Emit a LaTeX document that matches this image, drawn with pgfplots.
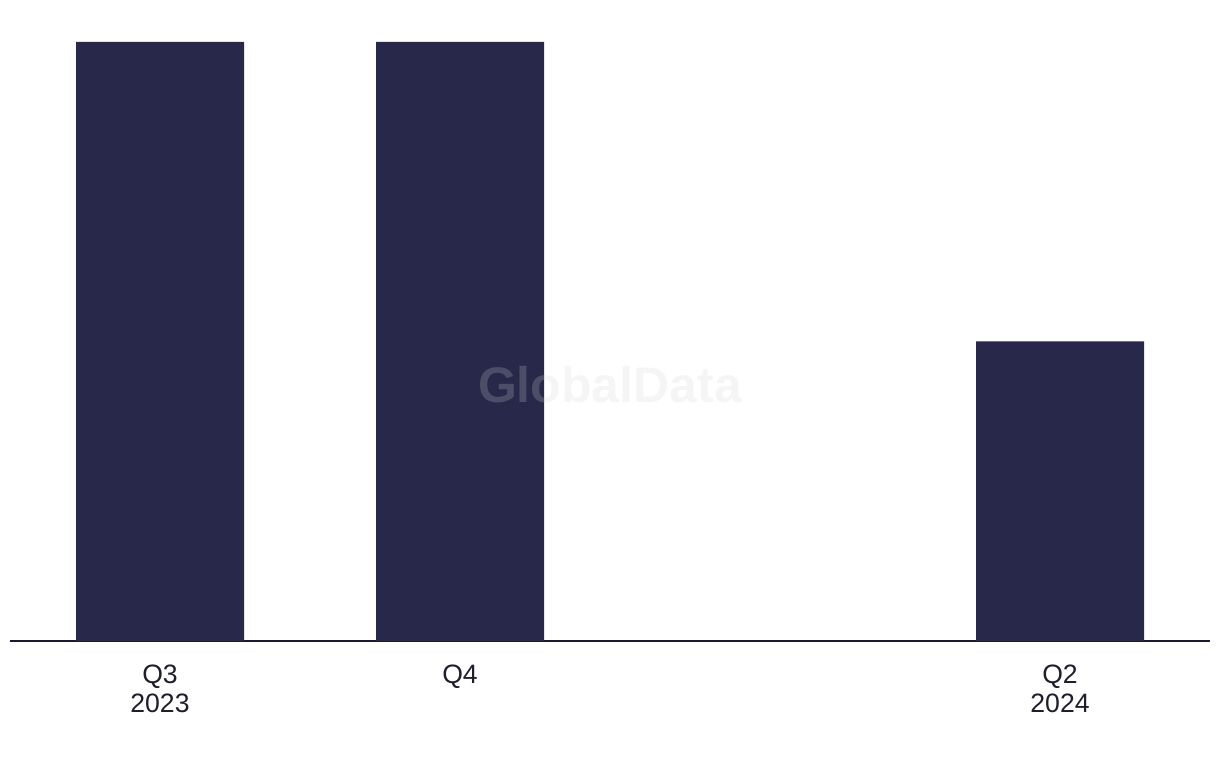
\documentclass[border=0pt]{standalone}
\usepackage{fontspec}
\setmainfont{Liberation Sans}
\usepackage{pgfplots}
\pgfplotsset{compat=1.18}
\definecolor{barnavy}{HTML}{28284A}
\definecolor{axisnavy}{HTML}{1A1A2E}
\definecolor{labelc}{HTML}{1E1E2C}
\definecolor{wmark}{HTML}{D2D2D2}

\begin{document}
\begin{tikzpicture}
\begin{axis}[
    name=ax,
    scale only axis,
    width=600pt, height=320.5pt,
    xmin=-0.5, xmax=3.5,
    ymin=0, ymax=2.1402,
    ybar, bar width=84pt,
    axis x line*=bottom,
    axis y line=none,
    x axis line style={draw=axisnavy, line width=1pt, -},
    xtick={0,1,3},
    xticklabels={{Q3\\2023},{Q4},{Q2\\2024}},
    xticklabel style={align=center, font=\fontsize{13.3}{14.5}\selectfont, text=labelc, yshift=-8.5pt},
    major tick length=0pt,
    clip=false,
]
\addplot[fill=barnavy, draw=none] coordinates {(0,2) (1,2) (3,1)};
\coordinate (wm) at (axis cs:1.5,0.855);
\coordinate (sw) at (rel axis cs:0,0);
\coordinate (ne) at (rel axis cs:1,1);
\end{axis}
\node[text=wmark, opacity=0.22, font=\fontsize{25}{30}\selectfont\bfseries] at (wm) {GlobalData};
\pgfresetboundingbox
\path ([shift={(-5pt,-63.5pt)}]sw) rectangle ([shift={(5pt,0pt)}]ne);
\end{tikzpicture}
\end{document}
